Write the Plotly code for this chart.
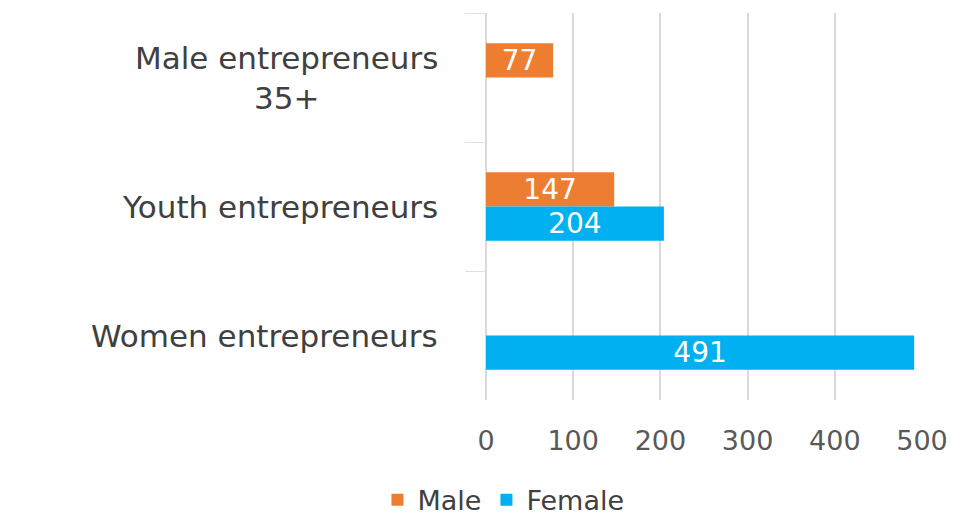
import plotly.graph_objects as go

categories = ["Male entrepreneurs<br>35+", "Youth entrepreneurs", "Women entrepreneurs"]
male_values = [77, 147, None]
female_values = [None, 204, 491]
x_ticks = [0, 100, 200, 300, 400, 500]

ORANGE = "#ED7D31"
BLUE = "#00B0F0"
FONT = "DejaVu Sans"

fig = go.Figure()
fig.add_trace(go.Bar(
    name="Male", y=categories, x=male_values, orientation="h",
    marker=dict(color=ORANGE, line=dict(width=0)),
    text=[str(v) if v is not None else "" for v in male_values],
    textposition="inside", insidetextanchor="middle", constraintext="none",
    insidetextfont=dict(color="white", size=28, family=FONT),
))
fig.add_trace(go.Bar(
    name="Female", y=categories, x=female_values, orientation="h",
    marker=dict(color=BLUE, line=dict(width=0)),
    text=[str(v) if v is not None else "" for v in female_values],
    textposition="inside", insidetextanchor="middle", constraintext="none",
    insidetextfont=dict(color="white", size=28, family=FONT),
))

for cat in categories:
    fig.add_annotation(
        x=0, xref="paper", y=cat, yref="y", text=cat, showarrow=False,
        xanchor="right", yanchor="middle", align="center", xshift=-46,
        font=dict(size=31, color="#404040", family=FONT),
    )

fig.update_layout(
    width=959, height=519,
    margin=dict(l=486, r=37, t=13, b=119),
    paper_bgcolor="white", plot_bgcolor="white",
    barmode="group", bargap=0.47, bargroupgap=0,
    font=dict(family=FONT, color="#595959"),
    showlegend=True,
    legend=dict(
        orientation="h", xref="container", yref="container",
        x=0.525, xanchor="center", y=0.036, yanchor="middle",
        font=dict(size=27, color="#404040", family=FONT),
        itemwidth=30, tracegroupgap=0,
    ),
    xaxis=dict(
        range=[0, 500], tickvals=x_ticks, ticktext=[str(v) for v in x_ticks],
        showgrid=True, gridcolor="#D9D9D9", gridwidth=2,
        zeroline=True, zerolinecolor="#D9D9D9", zerolinewidth=2,
        showline=False, ticks="", ticklabelstandoff=22,
        tickfont=dict(size=27, color="#595959", family=FONT),
    ),
    yaxis=dict(
        range=[2.5, -0.5], showticklabels=False, showgrid=False, zeroline=False,
        ticks="outside", tickson="boundaries", ticklen=20, tickcolor="#E0E0E0",
        tickwidth=1, showline=False,
    ),
)

fig.write_html("out.html")
